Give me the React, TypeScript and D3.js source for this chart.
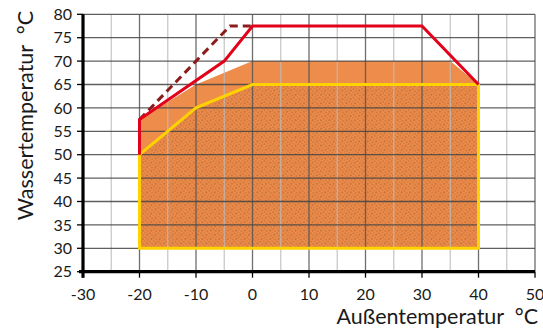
import React from 'react';
import * as d3 from 'd3';

// axis ticks
const xTicks = [-30, -20, -10, 0, 10, 20, 30, 40, 50];
const yTicks = [25, 30, 35, 40, 45, 50, 55, 60, 65, 70, 75, 80];
const xGrid = d3.range(-25, 55, 5);

// orange operating field (upper envelope)
const fieldX = [-20, -20, -10, 0, 35, 40, 40];
const fieldY = [30, 57.5, 65, 70, 70, 65, 30];

// yellow hatched field
const yellowX = [-20, -20, -10, 0, 40, 40];
const yellowY = [30, 50, 60, 65, 65, 30];

// red limit line
const redX = [-20, -20, -5, 0, 30, 40];
const redY = [50, 57.5, 70, 77.5, 77.5, 65];

// dashed limit line
const dashX = [-20, -10, -4, 0];
const dashY = [57.5, 70, 77.5, 77.5];

const W = 543;
const H = 329;

export default function App() {
  const x = d3.scaleLinear().domain([-30, 50]).range([83, 535]);
  const y = d3.scaleLinear().domain([25, 80]).range([271.7, 14.3]);

  const pts = (xs: number[], ys: number[]) => xs.map((v, i) => [x(v), y(ys[i])] as [number, number]);
  const line = d3.line<[number, number]>();

  const fieldPath = line(pts(fieldX, fieldY)) + 'Z';
  const yellowPath = line(pts(yellowX, yellowY)) + 'Z';
  const redPath = line(pts(redX, redY)) as string;
  const dashPath = line(pts(dashX, dashY)) as string;

  const font = 'Lato, "Open Sans", sans-serif';

  return (
    <svg width={W} height={H} style={{ position: 'fixed', left: 0, top: 0, background: '#fff' }}>
      <defs>
        <pattern id="hatch" patternUnits="userSpaceOnUse" width={6} height={6} patternTransform="rotate(-45)">
          <line x1={1} y1={0} x2={1} y2={6} stroke="#c4652c" strokeWidth={1} strokeDasharray="2,1" />
          <line x1={4} y1={0} x2={4} y2={6} stroke="#222" strokeWidth={0.7} strokeOpacity={0.75} strokeDasharray="0.8,1.8" />
        </pattern>
      </defs>

      {/* fields */}
      <path d={fieldPath} fill="#ee8d4b" />
      <path d={yellowPath} fill="url(#hatch)" />

      {/* grid */}
      {xGrid.map(v => (
        <line key={'vx' + v} x1={x(v)} x2={x(v)} y1={y(80)} y2={y(25)}
          stroke={v % 10 === 0 ? '#555' : '#bbb'} strokeWidth={1.3} strokeOpacity={v % 10 === 0 ? 0.85 : 0.8} />
      ))}
      {yTicks.filter(v => v > 25).map(v => (
        <line key={'hy' + v} x1={x(-30)} x2={x(50)} y1={y(v)} y2={y(v)}
          stroke="#444" strokeWidth={1.3} strokeOpacity={0.85} />
      ))}

      {/* limit lines */}
      <path d={yellowPath} fill="none" stroke="#ffd200" strokeWidth={3} strokeLinejoin="miter" />
      <path d={dashPath} fill="none" stroke="#8b1c1c" strokeWidth={3} strokeDasharray="8,5" />
      <path d={redPath} fill="none" stroke="#e2001a" strokeWidth={3} />

      {/* axes */}
      <line x1={x(-30) - 4} x2={x(50)} y1={y(25)} y2={y(25)} stroke="#000" strokeWidth={3.2} />
      <line x1={x(-30)} x2={x(-30)} y1={y(80)} y2={y(25) + 6} stroke="#000" strokeWidth={3.2} />
      {yTicks.map(v => (
        <line key={'ty' + v} x1={x(-30) - 6} x2={x(-30)} y1={y(v)} y2={y(v)} stroke="#000" strokeWidth={1.3} />
      ))}
      {xTicks.map(v => (
        <line key={'tx' + v} x1={x(v)} x2={x(v)} y1={y(25)} y2={y(25) + 6} stroke="#000" strokeWidth={1.3} />
      ))}

      {/* tick labels */}
      {yTicks.map(v => (
        <text key={'ly' + v} x={x(-30) - 11} y={y(v)} dy="0.36em" textAnchor="end"
          fontFamily={font} fontSize={16} fill="#1a1a1a">{v}</text>
      ))}
      {xTicks.map(v => (
        <text key={'lx' + v} x={x(v)} y={y(25) + 28} textAnchor="middle"
          fontFamily={font} fontSize={16} fill="#1a1a1a">{v}</text>
      ))}

      {/* axis titles */}
      <text x={538} y={324} textAnchor="end" fontFamily={font} fontSize={21.5} fill="#1a1a1a"
        style={{ whiteSpace: 'pre' }}>{'Außentemperatur  °C'}</text>
      <text transform="translate(33,11) rotate(-90)" textAnchor="end" fontFamily={font} fontSize={21.5} fill="#1a1a1a"
        style={{ whiteSpace: 'pre' }}>{'Wassertemperatur  °C'}</text>
    </svg>
  );
}
